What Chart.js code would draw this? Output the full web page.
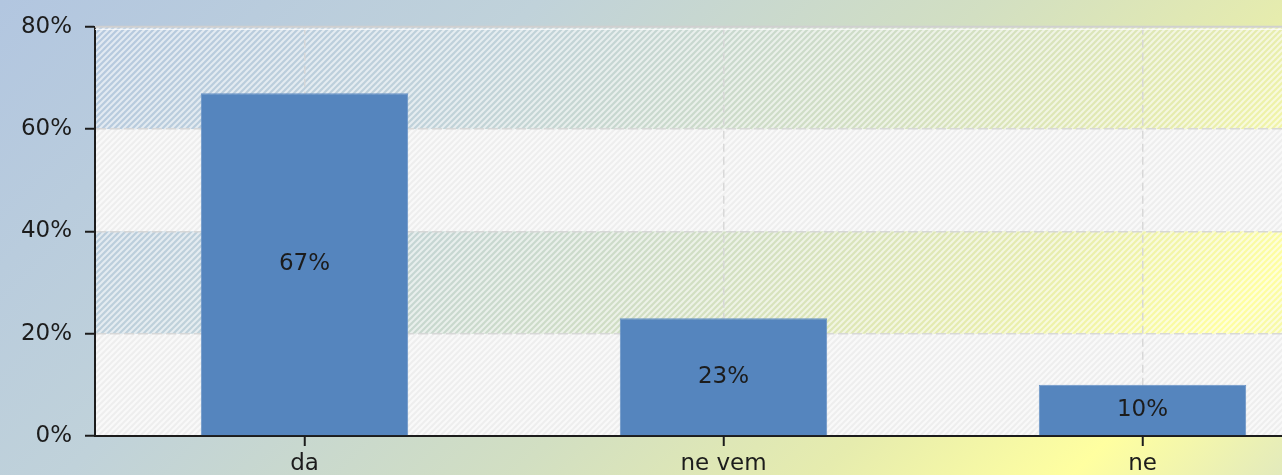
<!DOCTYPE html>
<html>
<head>
<meta charset="utf-8">
<script src="https://cdn.jsdelivr.net/npm/chart.js@4/dist/chart.umd.min.js"></script>
<style>
  html, body { margin: 0; padding: 0; overflow: hidden; background: #c4d4d4; }
  #wrap { width: 1352px; height: 475px; }
</style>
</head>
<body>
<div id="wrap"><canvas id="c" width="1352" height="475"></canvas></div>
<script>
// Survey answers and their shares (%)
const categories = ['da', 'ne vem', 'ne'];
const shares = [67, 23, 10];
const yTicks = [0, 20, 40, 60, 80];

const FONT = 'DejaVu Sans';
const TEXT = '#1c1c1c';

// Diagonal "/" hatch tile
function hatch(lineColor, bg) {
  const s = 6;
  const t = document.createElement('canvas');
  t.width = s; t.height = s;
  const g = t.getContext('2d');
  if (bg) { g.fillStyle = bg; g.fillRect(0, 0, s, s); }
  g.strokeStyle = lineColor;
  g.lineWidth = 2;
  g.beginPath();
  g.moveTo(-1, s + 1); g.lineTo(s + 1, -1);
  g.moveTo(-1, 1); g.lineTo(1, -1);
  g.moveTo(s - 1, s + 1); g.lineTo(s + 1, s - 1);
  g.stroke();
  return g.createPattern(t, 'repeat');
}

const backdrop = {
  id: 'backdrop',
  beforeDraw(chart) {
    const ctx = chart.ctx;
    const { left, right } = chart.chartArea;
    const y = chart.scales.y;
    ctx.save();
    // soft blue → yellow wash behind everything
    const g = ctx.createLinearGradient(0, 0, 900, 900);
    g.addColorStop(0, '#b2c6e0');
    g.addColorStop(0.3, '#c0d2da');
    g.addColorStop(0.55, '#d2dfc2');
    g.addColorStop(0.72, '#e6ecae');
    g.addColorStop(0.86, '#ffffa0');
    g.addColorStop(1, '#dde6c2');
    ctx.fillStyle = g;
    ctx.fillRect(0, 0, chart.width, chart.height);

    // alternating bands between the y ticks
    const light = hatch('rgba(238,238,238,1)', '#f9f9f9');
    const tint = hatch('rgba(255,255,255,0.6)');
    for (let i = 0; i < yTicks.length - 1; i++) {
      const yTop = y.getPixelForValue(yTicks[i + 1]);
      const yBot = y.getPixelForValue(yTicks[i]);
      ctx.fillStyle = (i % 2 === 0) ? light : tint;
      ctx.fillRect(left, yTop, right - left, yBot - yTop);
    }
    ctx.restore();
  },
  beforeDatasetsDraw(chart) {
    // solid frame line along the top of the plot
    const ctx = chart.ctx;
    const { left, right, top } = chart.chartArea;
    ctx.save();
    ctx.strokeStyle = '#d0d0d0';
    ctx.lineWidth = 2;
    ctx.beginPath(); ctx.moveTo(left, top); ctx.lineTo(right, top); ctx.stroke();
    ctx.strokeStyle = 'rgba(255,255,255,0.9)';
    ctx.lineWidth = 1;
    ctx.beginPath(); ctx.moveTo(left, top + 2.5); ctx.lineTo(right, top + 2.5); ctx.stroke();
    ctx.restore();
  }
};

const valueLabels = {
  id: 'valueLabels',
  afterDatasetsDraw(chart) {
    const ctx = chart.ctx;
    const meta = chart.getDatasetMeta(0);
    ctx.save();
    ctx.font = '23px "' + FONT + '"';
    ctx.fillStyle = TEXT;
    ctx.textAlign = 'center';
    ctx.textBaseline = 'middle';
    meta.data.forEach((bar, i) => {
      const v = chart.data.datasets[0].data[i];
      ctx.fillText(v + '%', bar.x, (bar.y + bar.base) / 2);
    });
    ctx.restore();
  }
};

Chart.defaults.font.family = FONT;
Chart.defaults.font.size = 23;
Chart.defaults.color = TEXT;

new Chart(document.getElementById('c'), {
  type: 'bar',
  data: {
    labels: categories,
    datasets: [{
      data: shares,
      backgroundColor: '#5585be',
      borderColor: '#6892c6',
      borderWidth: 1,
      barPercentage: 0.495,
      categoryPercentage: 1
    }]
  },
  options: {
    responsive: false,
    animation: false,
    devicePixelRatio: 1,
    layout: { padding: { top: 19, right: 0, left: 0, bottom: 0 } },
    plugins: { legend: { display: false }, tooltip: { enabled: false } },
    scales: {
      x: {
        offset: true,
        grid: {
          offset: false,
          color: 'rgba(214,214,214,0.95)',
          lineWidth: 1.5,
          tickColor: '#1c1c1c',
          tickWidth: 2,
          tickLength: 10,
          tickBorderDash: []
        },
        border: { color: '#1c1c1c', width: 2, dash: [8, 5] },
        ticks: { padding: 4, font: { size: 23 }, color: TEXT },
        afterFit(scale) { scale.height = 39; }
      },
      y: {
        min: 0,
        max: 80,
        grid: {
          color: ctx => (ctx.tick && ctx.tick.value === 80) ? 'rgba(0,0,0,0)' : 'rgba(214,214,214,0.95)',
          lineWidth: 1.5,
          tickColor: '#1c1c1c',
          tickWidth: 2,
          tickLength: 10,
          tickBorderDash: []
        },
        border: { color: '#1c1c1c', width: 2, dash: [10, 4] },
        ticks: {
          stepSize: 20,
          padding: 13,
          font: { size: 23 },
          color: TEXT,
          callback: v => v + '%'
        },
        afterFit(scale) { scale.width = 95; }
      }
    }
  },
  plugins: [backdrop, valueLabels]
});
</script>
</body>
</html>
